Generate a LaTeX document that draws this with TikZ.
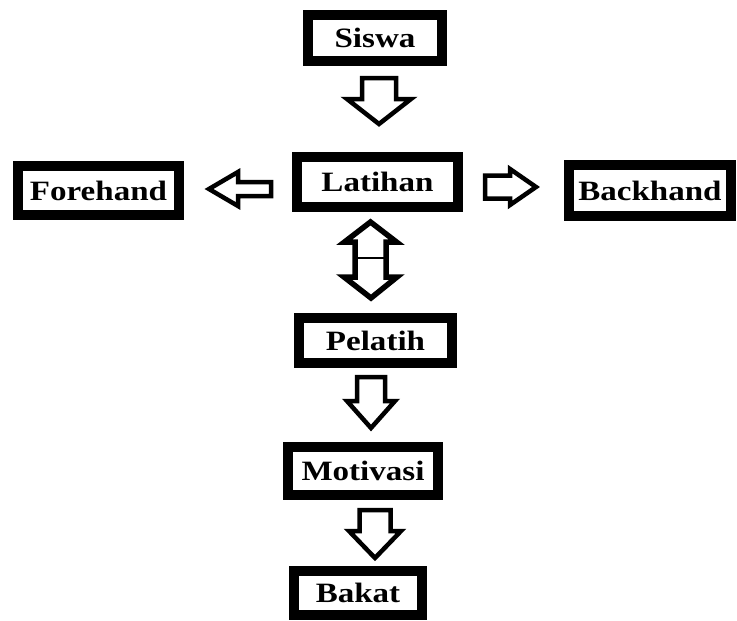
\documentclass[tikz,border=0pt]{standalone}
\usepackage{fontspec}
\setmainfont{Liberation Serif}
\newfontfamily\boxfont[FakeStretch=1.18]{Liberation Serif}

\tikzset{
	box/.style={draw=black, line width=10, inner sep=0, font=\boxfont\bfseries\fontsize{28}{32}\selectfont},
	blockarrow/.style={draw=black, line width=4.5, line join=miter, fill=white}
}

\begin{document}
\begin{tikzpicture}[x=1pt, y=-1pt]
	\useasboundingbox (0,0) rectangle (737,621);

	\foreach \n/\x/\y/\w/\h/\t in {siswa/375/38/134/46/Siswa, forehand/98.5/190.5/161/49/Forehand, latihan/377.5/182/161/50/Latihan, backhand/650/190.5/162/51/Backhand, pelatih/375.5/340.5/153/45/Pelatih, motivasi/363/471/150/48/Motivasi, bakat/358/593/128/44/Bakat}
	{
		\node[box, minimum width=\w, minimum height=\h] (\n) at (\x,\y) {\t};
	}

	% hollow arrows pointing down
	\foreach \cx/\ya/\yb/\yc/\s/\hw in {379/78/99/124/17/32, 371/377/401/428/14/24, 375/510/531/558/15.5/26}
	{
		\draw[blockarrow] (\cx-\s,\ya) -- (\cx+\s,\ya) -- (\cx+\s,\yb) -- (\cx+\hw,\yb) -- (\cx,\yc) -- (\cx-\hw,\yb) -- (\cx-\s,\yb) -- cycle;
	}

	% to forehand and backhand
	\draw[blockarrow] (271,182) -- (238,182) -- (238,172) -- (209,189) -- (238,206) -- (238,196) -- (271,196) -- cycle;
	\draw[blockarrow] (485,175.5) -- (510,175.5) -- (510,169) -- (536,187) -- (510,205) -- (510,198.5) -- (485,198.5) -- cycle;

	% latihan <-> pelatih
	\draw[blockarrow, line width=5.5] (370.5,222) -- (396.5,242) -- (386,242) -- (386,277) -- (397,277) -- (371,298) -- (344,277) -- (355,277) -- (355,242) -- (344.5,242) -- cycle;
	\draw[line width=2] (355,258) -- (386,258);

\end{tikzpicture}
\end{document}
